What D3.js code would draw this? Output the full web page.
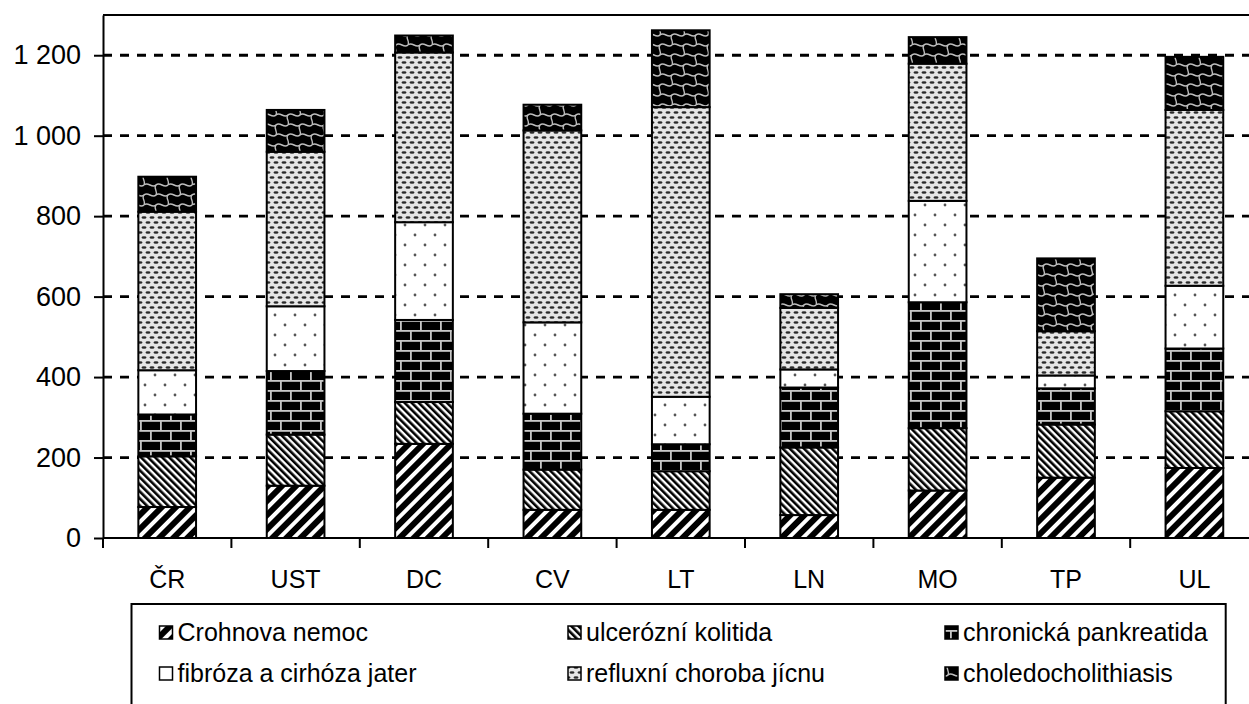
<!DOCTYPE html>
<html>
<head>
<meta charset="utf-8">
<script src="https://cdn.jsdelivr.net/npm/d3@7"></script>
<style>
  html, body { margin: 0; padding: 0; background: #fff; }
  svg { display: block; font-family: "Liberation Sans", Arial, sans-serif; }
</style>
</head>
<body>
<svg id="chart" width="1249" height="704"></svg>
<script>
// ---- data ----
const categories = ["ČR", "UST", "DC", "CV", "LT", "LN", "MO", "TP", "UL"];
const crohn  = [77, 130, 234, 70, 70, 57, 118, 150, 174];
const ulcer  = [126, 127, 104, 100, 96, 168, 155, 132, 141];
const pankr  = [104, 158, 204, 139, 67, 149, 313, 90, 156];
const fibr   = [110, 161, 243, 227, 118, 45, 252, 32, 156];
const reflux = [394, 384, 422, 477, 720, 153, 341, 110, 437];
const chol   = [87, 104, 42, 64, 191, 34, 66, 181, 132];
const seriesNames = ["Crohnova nemoc", "ulcerózní kolitida", "chronická pankreatida",
                     "fibróza a cirhóza jater", "refluxní choroba jícnu", "choledocholithiasis"];
const yTicks = [0, 200, 400, 600, 800, 1000, 1200];

(function () {
const seriesValues = [crohn, ulcer, pankr, fibr, reflux, chol];
const keys = ["crohn", "ulcer", "pankr", "fibr", "reflux", "chol"];
const table = categories.map((c, i) => {
  const row = { cat: c };
  keys.forEach((k, j) => row[k] = seriesValues[j][i]);
  return row;
});

// ---- layout ----
const svg = d3.select("#chart");
const W = 1249;
const mLeft = 103, mTop = 15, mBottom = 538;
const step = 128.4;
const x = d3.scaleBand().domain(categories).range([mLeft, mLeft + step * categories.length]).paddingInner(0).paddingOuter(0);
const y = d3.scaleLinear().domain([0, 1300]).range([mBottom, mTop]);
const barW = 57.7;

// ---- patterns ----
const defs = svg.append("defs");
function pat(id, w, h, transform) {
  const p = defs.append("pattern").attr("id", id).attr("patternUnits", "userSpaceOnUse")
    .attr("width", w).attr("height", h);
  if (transform) p.attr("patternTransform", transform);
  return p;
}
{
  const p = pat("p-crohn", 10, 10, "rotate(45)");
  p.append("rect").attr("width", 10).attr("height", 10).attr("fill", "#fff");
  p.append("rect").attr("width", 6).attr("height", 10).attr("fill", "#000");
}
{
  const p = pat("p-ulcer", 5, 5, "rotate(-45)");
  p.append("rect").attr("width", 5).attr("height", 5).attr("fill", "#fff");
  p.append("rect").attr("width", 2.6).attr("height", 5).attr("fill", "#000");
}
{
  const p = pat("p-pankr", 20, 20);
  p.append("rect").attr("width", 20).attr("height", 20).attr("fill", "#000");
  const g = "#c8c8c8";
  p.append("rect").attr("x", 0).attr("y", 0).attr("width", 20).attr("height", 1.8).attr("fill", g);
  p.append("rect").attr("x", 0).attr("y", 10).attr("width", 20).attr("height", 1.8).attr("fill", g);
  p.append("rect").attr("x", 0).attr("y", 0).attr("width", 1.8).attr("height", 10).attr("fill", g);
  p.append("rect").attr("x", 10).attr("y", 10).attr("width", 1.8).attr("height", 10).attr("fill", g);
}
{
  const p = pat("p-fibr", 20, 20);
  p.append("rect").attr("width", 20).attr("height", 20).attr("fill", "#fff");
  p.append("circle").attr("cx", 5).attr("cy", 5).attr("r", 1.4).attr("fill", "#555");
  p.append("circle").attr("cx", 15).attr("cy", 15).attr("r", 1.4).attr("fill", "#555");
}
{
  const p = pat("p-reflux", 8, 10);
  p.append("rect").attr("width", 8).attr("height", 10).attr("fill", "#e6e6e6");
  p.append("ellipse").attr("cx", 4).attr("cy", 2.5).attr("rx", 2.5).attr("ry", 1.3).attr("fill", "#2a2a2a");
  p.append("ellipse").attr("cx", 0).attr("cy", 7.5).attr("rx", 2.5).attr("ry", 1.3).attr("fill", "#2a2a2a");
  p.append("ellipse").attr("cx", 8).attr("cy", 7.5).attr("rx", 2.5).attr("ry", 1.3).attr("fill", "#2a2a2a");
}
{
  const p = pat("p-chol", 24, 20);
  p.append("rect").attr("width", 24).attr("height", 20).attr("fill", "#000");
  const s = "#bdbdbd";
  p.append("path").attr("d", "M0,5 C4,1 8,9 12,5 C16,1 20,9 24,5").attr("fill", "none").attr("stroke", s).attr("stroke-width", 1.4);
  p.append("path").attr("d", "M-12,15 C-8,11 -4,19 0,15 C4,11 8,19 12,15 C16,11 20,19 24,15 C28,11 32,19 36,15").attr("fill", "none").attr("stroke", s).attr("stroke-width", 1.4);
  p.append("path").attr("d", "M12,5 C9,8 14,11 12,15").attr("fill", "none").attr("stroke", s).attr("stroke-width", 1.4);
  p.append("path").attr("d", "M0,15 C-3,18 2,21 0,25 M24,15 C21,18 26,21 24,25 M0,-5 C-3,-2 2,1 0,5 M24,-5 C21,-2 26,1 24,5").attr("fill", "none").attr("stroke", s).attr("stroke-width", 1.4);
}
const fills = keys.map(k => `url(#p-${k})`);

// ---- gridlines ----
svg.append("g").selectAll("line").data(yTicks.filter(d => d > 0)).join("line")
  .attr("x1", mLeft).attr("x2", W).attr("y1", d => y(d)).attr("y2", d => y(d))
  .attr("stroke", "#000").attr("stroke-width", 2.8).attr("stroke-dasharray", "9,8");

svg.append("line").attr("x1", mLeft).attr("x2", W).attr("y1", mTop).attr("y2", mTop)
  .attr("stroke", "#000").attr("stroke-width", 2);

// ---- bars ----
const stack = d3.stack().keys(keys)(table);
const gBars = svg.append("g");
stack.forEach((layer, li) => {
  gBars.append("g").selectAll("rect").data(layer).join("rect")
    .attr("x", d => x(d.data.cat) + (x.bandwidth() - barW) / 2)
    .attr("width", barW)
    .attr("y", d => y(d[1]))
    .attr("height", d => y(d[0]) - y(d[1]))
    .attr("fill", fills[li])
    .attr("stroke", "#000").attr("stroke-width", 2);
});

// ---- axes ----
const loc = d3.formatLocale({ decimal: ",", thousands: " ", grouping: [3], currency: ["", ""] });
const fmt = loc.format(",d");
const yAxis = svg.append("g").attr("transform", `translate(${mLeft},0)`)
  .call(d3.axisLeft(y).tickValues(yTicks).tickFormat(fmt).tickSize(9).tickSizeOuter(0).tickPadding(13));
yAxis.select(".domain").attr("stroke-width", 2);
yAxis.selectAll(".tick line").attr("stroke-width", 2);
yAxis.selectAll("text").attr("font-size", 27).attr("fill", "#000").attr("font-family", "Liberation Sans, Arial, sans-serif");

svg.append("line").attr("x1", mLeft).attr("x2", W).attr("y1", mBottom).attr("y2", mBottom)
  .attr("stroke", "#000").attr("stroke-width", 2);
const bounds = categories.map(c => x(c)).concat([x(categories[categories.length - 1]) + x.bandwidth()]);
svg.append("g").selectAll("line").data(bounds.filter(b => b <= W)).join("line")
  .attr("x1", d => d).attr("x2", d => d).attr("y1", mBottom).attr("y2", mBottom + 10)
  .attr("stroke", "#000").attr("stroke-width", 2);
const xAxis = svg.append("g").attr("transform", `translate(0,${mBottom})`)
  .call(d3.axisBottom(x).tickSize(0).tickPadding(32));
xAxis.select(".domain").remove();
xAxis.selectAll("text").attr("font-size", 25).attr("fill", "#000").attr("font-family", "Liberation Sans, Arial, sans-serif");

// ---- legend ----
const lg = svg.append("g");
lg.append("rect").attr("x", 131.5).attr("y", 604).attr("width", 1225.7 - 131.5).attr("height", 120)
  .attr("fill", "#fff").attr("stroke", "#000").attr("stroke-width", 2);
const colX = [159.5, 568, 945];
const rowY = [626, 667];
seriesNames.forEach((name, i) => {
  const cx = colX[i % 3], ry = rowY[Math.floor(i / 3)];
  lg.append("rect").attr("x", cx).attr("y", ry).attr("width", 13).attr("height", 13)
    .attr("fill", fills[i]).attr("stroke", "#000").attr("stroke-width", 1.5);
  lg.append("text").attr("x", cx + 18).attr("y", ry + 15).attr("font-size", 25).attr("fill", "#000")
    .text(name);
});
})();
</script>
</body>
</html>
